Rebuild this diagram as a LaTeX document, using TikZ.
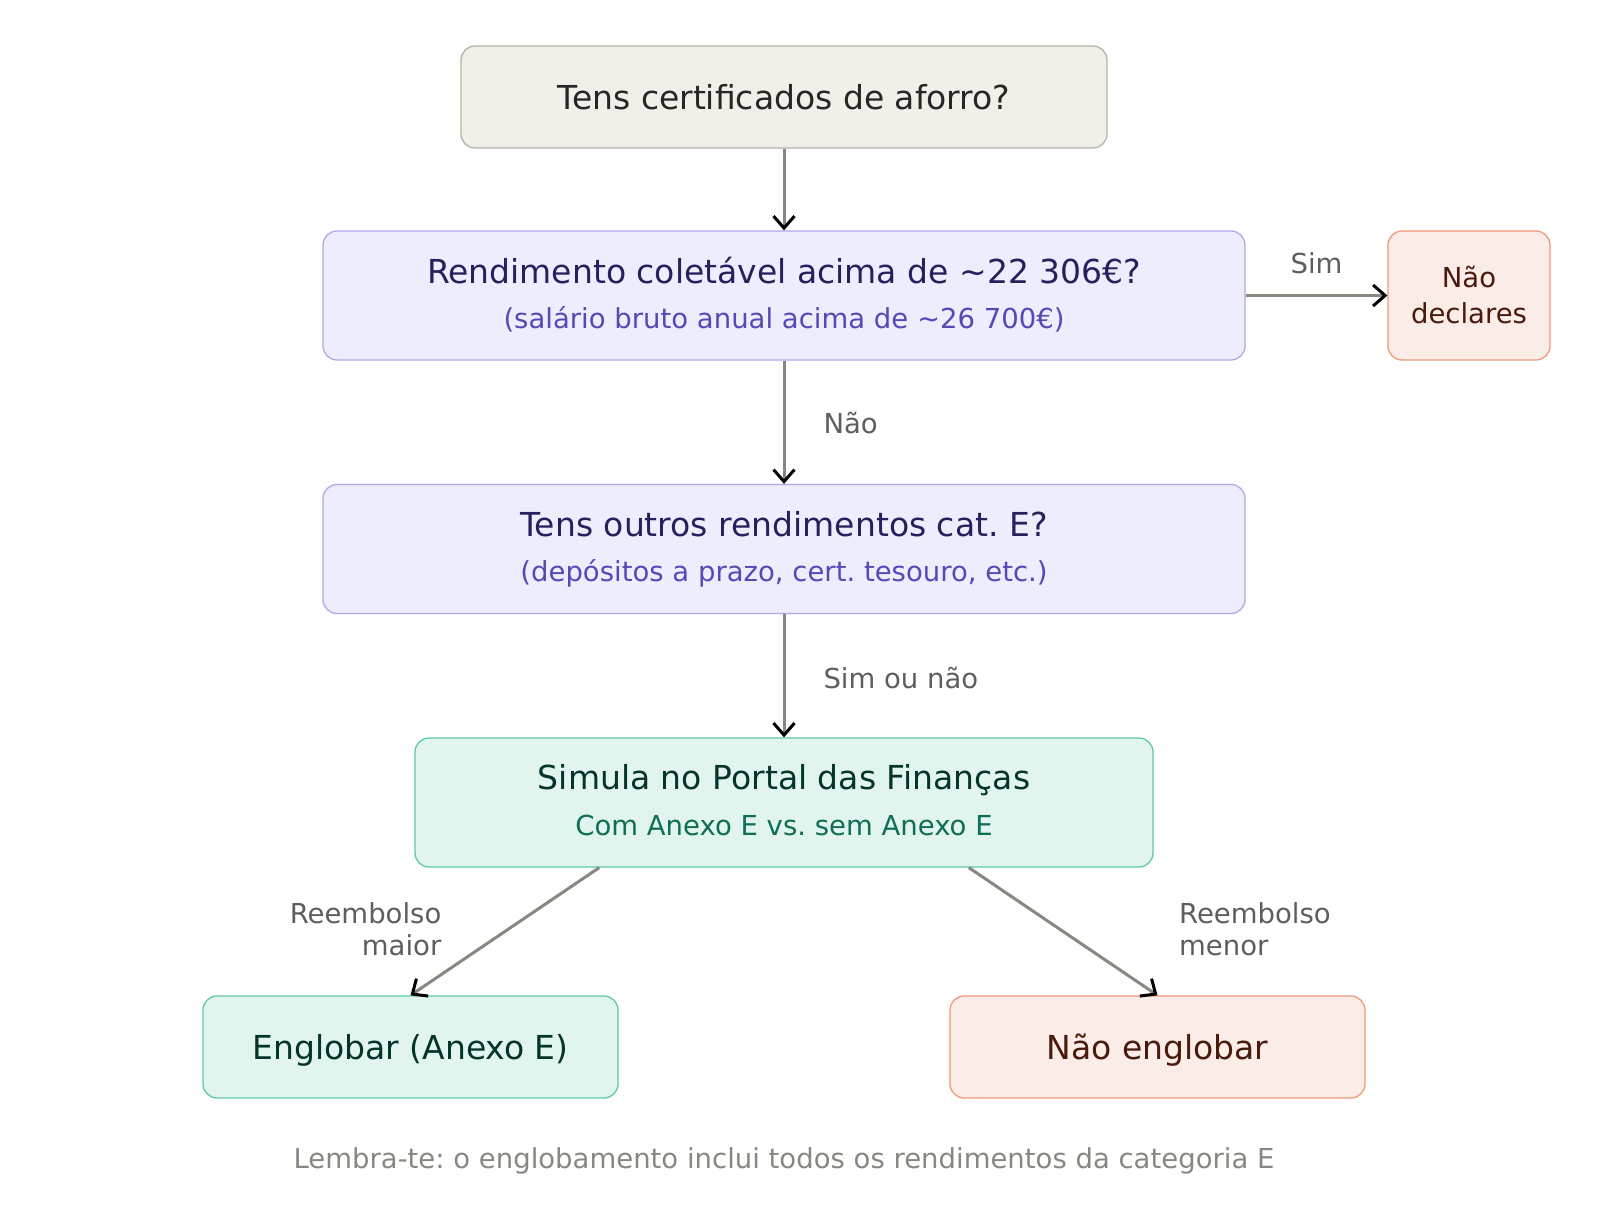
\documentclass[tikz,border=0pt]{standalone}
\usepackage{fontspec}
\setmainfont{DejaVu Sans}
\usetikzlibrary{arrows.meta,calc}
\frenchspacing

\definecolor{linha}{HTML}{888780}
\definecolor{rotcor}{HTML}{5F5E5A}
\definecolor{creme}{HTML}{F1EFE8}
\definecolor{cremeb}{HTML}{B4B2A9}
\definecolor{lilas}{HTML}{EEEDFE}
\definecolor{lilasb}{HTML}{AFA9EC}
\definecolor{lilast}{HTML}{26215C}
\definecolor{lilass}{HTML}{534AB7}
\definecolor{verde}{HTML}{E1F5EE}
\definecolor{verdeb}{HTML}{5DCAA5}
\definecolor{verdet}{HTML}{04342C}
\definecolor{verdes}{HTML}{0F6E56}
\definecolor{coral}{HTML}{FAECE7}
\definecolor{coralb}{HTML}{F0997B}
\definecolor{coralt}{HTML}{4A1B0C}

\begin{document}
\begin{tikzpicture}[x=1pt, y=-1pt,
    caixa/.style={draw, rounded corners=14pt, line width=1.3pt, inner sep=0pt},
    grande/.style={font=\fontsize{33}{38}\selectfont},
    pequeno/.style={font=\fontsize{27.5}{32}\selectfont},
    seta/.style={draw=linha, line width=3pt,
      -{Straight Barb[color=black, length=12pt, width=21pt]}},
    rotulo/.style={pequeno, text=rotcor, inner sep=0pt}]
  \useasboundingbox (0,0) rectangle (1600,1223);

  % caixas
  \node[caixa, grande, fill=creme, draw=cremeb, text=black!85,
    minimum width=646pt, minimum height=102pt, text height=24pt, text depth=0pt]
    (cert) at (784,97) {Tens certificados de aforro?};
  \node[caixa, fill=lilas, draw=lilasb, minimum width=922pt, minimum height=129pt]
    (rend) at (784,295.5) {};
  \node[grande, text=lilast, anchor=base] (rendtit) at ([yshift=12.5pt]rend.center)
    {Rendimento coletável acima de \textasciitilde 22 306€?};
  \node[pequeno, text=lilass, anchor=base] (rendsub) at ([yshift=-32.5pt]rend.center)
    {(salário bruto anual acima de \textasciitilde 26 700€)};
  \node[caixa, fill=coral, draw=coralb, text=coralt, align=center,
    font=\fontsize{27.5}{36}\selectfont, minimum width=162pt, minimum height=129pt]
    (naodecl) at (1469,295.5) {Não\\declares};
  \node[caixa, fill=lilas, draw=lilasb, minimum width=922pt, minimum height=129pt]
    (outros) at (784,549) {};
  \node[grande, text=lilast, anchor=base] (outrostit) at ([yshift=12.5pt]outros.center)
    {Tens outros rendimentos cat. E?};
  \node[pequeno, text=lilass, anchor=base] (outrossub) at ([yshift=-32.5pt]outros.center)
    {(depósitos a prazo, cert. tesouro, etc.)};
  \node[caixa, fill=verde, draw=verdeb, minimum width=738pt, minimum height=129pt]
    (simula) at (784,802.5) {};
  \node[grande, text=verdet, anchor=base] (simulatit) at ([yshift=13.5pt]simula.center)
    {Simula no Portal das Finanças};
  \node[pequeno, text=verdes, anchor=base] (simulasub) at ([yshift=-32.5pt]simula.center)
    {Com Anexo E vs. sem Anexo E};
  \node[caixa, grande, fill=verde, draw=verdeb, text=verdet,
    minimum width=415pt, minimum height=102pt, text height=24pt, text depth=0pt]
    (englobar) at (410.5,1047) {Englobar (Anexo E)};
  \node[caixa, grande, fill=coral, draw=coralb, text=coralt,
    minimum width=415pt, minimum height=102pt, text height=24pt, text depth=0pt]
    (naoengl) at (1157.5,1047) {Não englobar};

  % setas
  \draw[seta] (cert) -- (rend);
  \draw[seta] (rend) -- (naodecl)
    node[rotulo, midway, anchor=base, yshift=22pt] (lsim) {Sim};
  \draw[seta] (rend) -- (outros)
    node[rotulo, midway, anchor=base west, xshift=38pt, yshift=-11.5pt] (lnao) {Não};
  \draw[seta] (outros) -- (simula)
    node[rotulo, midway, anchor=base west, xshift=38pt, yshift=-12.5pt] (lsimnao) {Sim ou não};
  \draw[seta] ($(simula.south west)!0.25!(simula.south east)$) -- (englobar.north)
    node[rotulo, midway, anchor=east, align=right, xshift=-62pt, yshift=2.5pt] (lmaior)
    {Reembolso\\maior};
  \draw[seta] ($(simula.south west)!0.75!(simula.south east)$) -- (naoengl.north)
    node[rotulo, midway, anchor=west, align=left, xshift=114.5pt, yshift=2.5pt] (lmenor)
    {Reembolso\\menor};

  \node[pequeno, text=linha, anchor=base] (nota) at (784,1168)
    {Lembra-te: o englobamento inclui todos os rendimentos da categoria E};
\end{tikzpicture}
\end{document}
